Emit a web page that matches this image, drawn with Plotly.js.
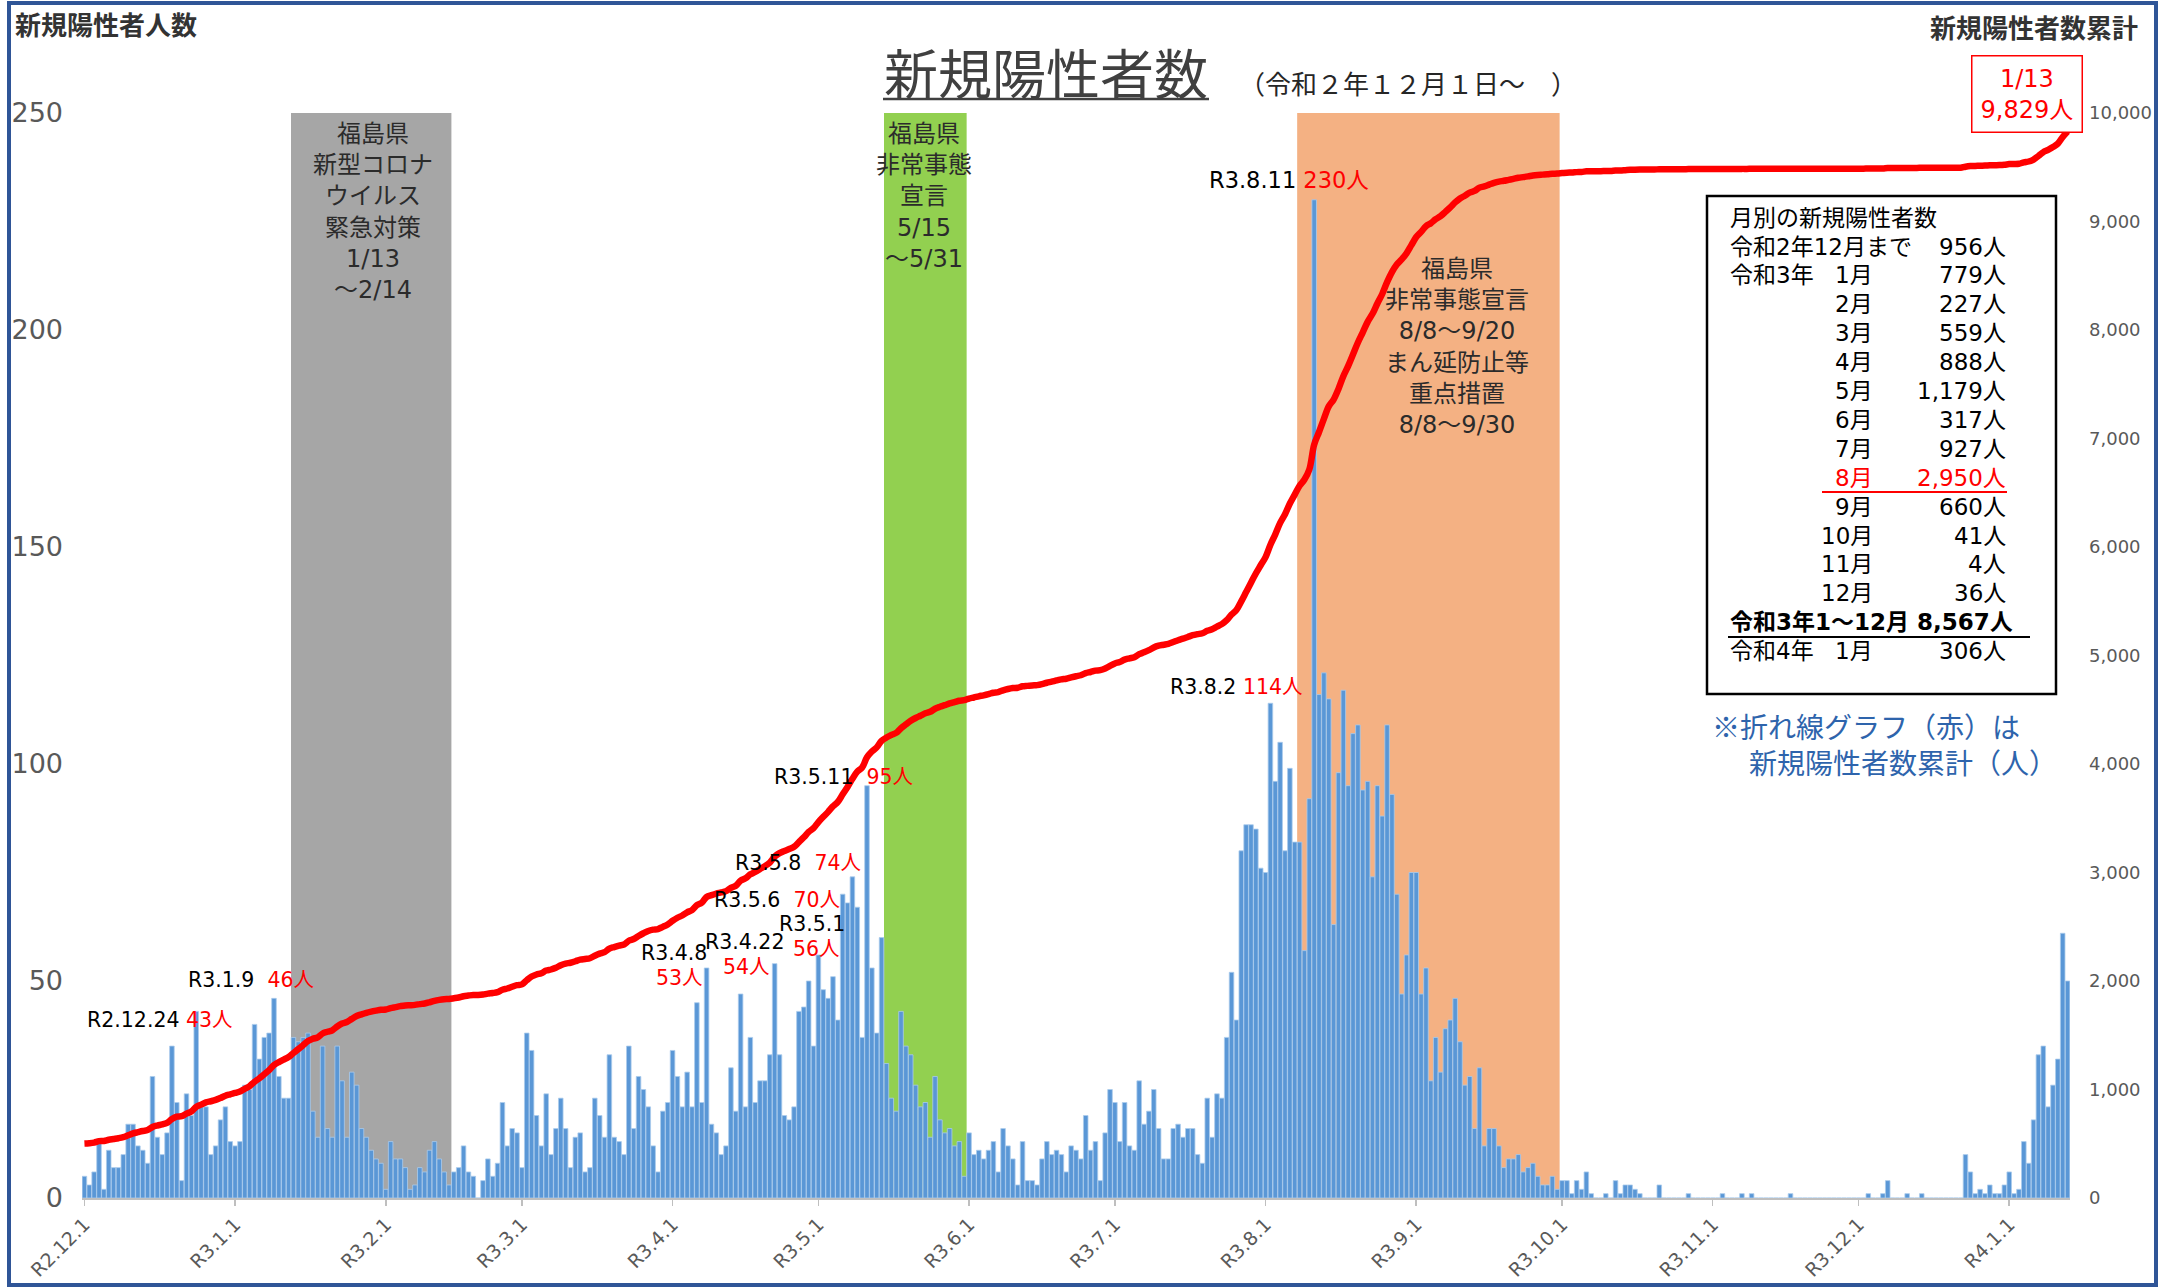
<!DOCTYPE html>
<html><head><meta charset="utf-8">
<script src="https://cdn.plot.ly/plotly-3.0.1.min.js"></script>
<style>html,body{margin:0;padding:0;background:#fff}#chart{width:2159px;height:1287px}</style>
</head><body><div id="chart"></div>
<script>
// ---- daily new positive cases ----
const dec2020 = [5,3,6,13,2,11,7,7,10,17,17,12,11,8,28,14,10,15,35,22,4,24,19,43,21,21,10,12,18,21,13];
const jan2021 = [12,13,26,25,40,32,37,38,46,28,23,23,37,36,37,38,20,14,35,16,14,35,27,14,29,26,16,14,11,9,8];
const feb2021 = [2,13,9,9,7,2,3,7,6,11,13,9,6,3,6,7,12,6,5,0,4,9,5,8,22,12,16,15];
const mar2021 = [7,38,34,19,12,24,10,16,23,16,7,14,15,6,7,23,19,14,33,14,13,10,35,16,28,25,21,12,6,20,22];
const apr2021 = [34,28,21,29,21,45,22,53,17,15,10,12,30,20,47,21,37,22,27,27,33,54,33,19,18,21,43,44,50,35];
const may2021 = [56,48,46,51,41,70,68,74,67,37,95,53,38,60,31,23,20,43,35,33,26,21,22,14,28,18,15,16,12,13,5];
const jun2021 = [15,10,11,9,11,13,6,16,12,9,3,13,4,4,3,9,13,10,11,10,6,12,11,9,19,11,13,4,15,25];
const jul2021 = [22,13,22,12,11,27,17,20,25,16,9,9,16,17,14,16,16,10,8,23,14,24,23,37,52,41,80,86,86,85,76];
const aug2021 = [75,114,96,105,80,99,82,82,57,92,230,116,121,115,63,98,117,95,107,109,94,96,74,95,88,109,93,70,47,56,75];
const sep2021 = [75,47,53,27,37,29,39,41,46,36,26,28,16,30,12,16,16,12,7,9,9,10,6,7,8,5,3,3,5,2];
const oct2021 = [4,4,1,4,2,6,1,0,0,1,0,4,1,3,3,2,1,0,0,0,3,0,0,0,0,0,1,0,0,0,0];
const nov2021 = [0,0,1,0,0,0,1,0,1,0,0,0,0,0,0,0,1,0,0,0,0,0,0,0,0,0,0,0,0,0];
const dec2021 = [0,0,1,0,0,1,4,0,0,0,1,0,0,1,0,0,0,0,0,0,0,0,10,6,1,2,1,3,1,1,3];
const jan2022 = [6,1,2,13,8,18,33,35,21,26,32,61,50];

// ---- axis ticks ----
const tickDates  = ['2020-12-01','2021-01-01','2021-02-01','2021-03-01','2021-04-01','2021-05-01','2021-06-01','2021-07-01','2021-08-01','2021-09-01','2021-10-01','2021-11-01','2021-12-01','2022-01-01'];
const tickLabels = ['R2.12.1','R3.1.1','R3.2.1','R3.3.1','R3.4.1','R3.5.1','R3.6.1','R3.7.1','R3.8.1','R3.9.1','R3.10.1','R3.11.1','R3.12.1','R4.1.1'];

// ---- monthly table ----
const totalThroughDec2020 = 956;
const tableMonthLabels = ['1月','2月','3月','4月','5月','6月','7月','8月','9月','10月','11月','12月'];
const tableMonthValues = [779,227,559,888,1179,317,927,2950,660,41,4,36];
const total2021 = 8567;
const jan2022Total = 306;
const latestDate = '1/13';
const latestCumulative = 9829;

// ---- peak labels ----
const peakLabels = [
  {d:'R2.12.24', v:43}, {d:'R3.1.9', v:46}, {d:'R3.4.8', v:53}, {d:'R3.4.22', v:54},
  {d:'R3.5.1', v:56}, {d:'R3.5.6', v:70}, {d:'R3.5.8', v:74}, {d:'R3.5.11', v:95},
  {d:'R3.8.2', v:114}, {d:'R3.8.11', v:230}
];

// ---- build series ----
const daily = [].concat(dec2020,jan2021,feb2021,mar2021,apr2021,may2021,jun2021,jul2021,aug2021,sep2021,oct2021,nov2021,dec2021,jan2022);
const dates = daily.map((_, i) => new Date(Date.UTC(2020, 11, 1 + i)).toISOString().slice(0,10));
const base = totalThroughDec2020 - dec2020.reduce((a,b)=>a+b,0);
let run = base;
const cumulative = daily.map(v => (run += v));

// ---- geometry helpers (pixels -> paper) ----
const W=2159, H=1287, L=82, R=2070, T=113, B=1198;
const px = x => (x - L) / (R - L);
const py = y => (B - y) / (B - T);
const FJP = '"Noto Sans CJK JP", sans-serif';
const FMIX = '"DejaVu Sans", "Noto Sans CJK JP", sans-serif';
const RED = '#ff0000';
const fmt = n => n.toLocaleString('en-US');

function ann(text, x, y, o={}) {
  return Object.assign({text, x:px(x), y:py(y), xref:'paper', yref:'paper', showarrow:false,
    xanchor:'left', yanchor:'middle', align:'left',
    font:{family:FMIX, size:20.5, color:'#000'}}, o);
}
const red = s => `<span style="color:${RED}">${s}</span>`;

const annotations = [];
// titles
annotations.push(ann('新規陽性者人数', 13, 24, {font:{family:FJP, size:26, color:'#333', weight:'bold'}}));
annotations.push(ann('新規陽性者数累計', 2140, 27, {xanchor:'right', font:{family:FJP, size:26, color:'#333', weight:'bold'}}));
annotations.push(ann('新規陽性者数', 1046, 72, {xanchor:'center', font:{family:FJP, size:54, color:'#404040'}}));
annotations.push(ann('（令和２年１２月１日～\u3000）', 1408, 83, {xanchor:'center', font:{family:FJP, size:26, color:'#262626'}}));

// peak labels
const pl = i => peakLabels[i];
annotations.push(ann(`${pl(0).d} ${red(pl(0).v+'人')}`, 85, 1020));
annotations.push(ann(`${pl(1).d}\u00a0\u00a0${red(pl(1).v+'人')}`, 186, 980));
annotations.push(ann(pl(2).d, 674, 953, {xanchor:'center'}));
annotations.push(ann(red(pl(2).v+'人'), 679, 978, {xanchor:'center'}));
annotations.push(ann(pl(3).d, 744, 942, {xanchor:'center'}));
annotations.push(ann(red(pl(3).v+'人'), 746, 967, {xanchor:'center'}));
annotations.push(ann(pl(4).d, 812, 924, {xanchor:'center'}));
annotations.push(ann(red(pl(4).v+'人'), 816, 949, {xanchor:'center'}));
annotations.push(ann(`${pl(5).d}\u00a0\u00a0${red(pl(5).v+'人')}`, 712, 900));
annotations.push(ann(`${pl(6).d}\u00a0\u00a0${red(pl(6).v+'人')}`, 733, 863));
annotations.push(ann(`${pl(7).d}\u00a0\u00a0${red(pl(7).v+'人')}`, 772, 777));
annotations.push(ann(`${pl(8).d} ${red(pl(8).v+'人')}`, 1168, 687));
annotations.push(ann(`${pl(9).d} ${red(pl(9).v+'人')}`, 1207, 180, {font:{family:FMIX, size:22.5, color:'#000'}}));

// period boxes text
const boxFont = {family:FMIX, size:24, color:'#2b2b2b'};
annotations.push(ann('福島県<br>新型コロナ<br>ウイルス<br>緊急対策<br>1/13<br>～2/14', 373, 118, {xanchor:'center', yanchor:'top', align:'center', font:boxFont}));
annotations.push(ann('福島県<br>非常事態<br>宣言<br>5/15<br>～5/31', 924, 118, {xanchor:'center', yanchor:'top', align:'center', font:boxFont}));
annotations.push(ann('福島県<br>非常事態宣言<br>8/8～9/20<br>まん延防止等<br>重点措置<br>8/8～9/30', 1457, 253, {xanchor:'center', yanchor:'top', align:'center', font:boxFont}));

// latest cumulative box
annotations.push(ann(`${latestDate}<br>${fmt(latestCumulative)}人`, 2027, 94, {xanchor:'center', align:'center',
  font:{family:FMIX, size:24, color:RED}, bordercolor:RED, borderwidth:1.5, borderpad:8, bgcolor:'#fff'}));

// monthly table
const tf = {family:FMIX, size:23, color:'#000'};
const rowY = r => 217.6 + 28.9 * r;
annotations.push(ann('月別の新規陽性者数', 1728, rowY(0), {font:tf}));
annotations.push(ann('令和2年12月まで', 1728, rowY(1), {font:tf}));
annotations.push(ann(fmt(totalThroughDec2020)+'人', 2008, rowY(1), {xanchor:'right', font:tf}));
annotations.push(ann('令和3年', 1728, rowY(2), {font:tf}));
tableMonthLabels.forEach((m, i) => {
  const isPeak = tableMonthValues[i] === Math.max(...tableMonthValues);
  const f = Object.assign({}, tf, isPeak ? {color:RED} : {});
  annotations.push(ann(m, 1875, rowY(2+i), {xanchor:'right', font:f}));
  annotations.push(ann(fmt(tableMonthValues[i])+'人', 2008, rowY(2+i), {xanchor:'right', font:f}));
});
annotations.push(ann(`<b>令和3年1～12月 ${fmt(total2021)}人</b>`, 1728, rowY(14), {font:tf}));
annotations.push(ann('令和4年', 1728, rowY(15), {font:tf}));
annotations.push(ann('1月', 1875, rowY(15), {xanchor:'right', font:tf}));
annotations.push(ann(fmt(jan2022Total)+'人', 2008, rowY(15), {xanchor:'right', font:tf}));

// note
const noteFont = {family:FJP, size:28, color:'#2e64ac'};
annotations.push(ann('※折れ線グラフ（赤）は', 1710, 726, {font:noteFont}));
annotations.push(ann('新規陽性者数累計（人）', 1747, 762, {font:noteFont}));

// ---- shapes ----
const dayShift = (s, h) => { const d = new Date(s + 'T00:00:00Z'); d.setUTCHours(d.getUTCHours() + h); return d.toISOString().slice(0,19).replace('T',' '); };
const period = (a, b, color) => ({type:'rect', xref:'x', yref:'y', x0:dayShift(a,-12), x1:dayShift(b,12), y0:0, y1:250,
  fillcolor:color, line:{width:0}, layer:'below'});
const pline = (x0, y0, x1, y1, color, w) => ({type:'line', xref:'paper', yref:'paper', x0:px(x0), y0:py(y0), x1:px(x1), y1:py(y1), line:{color, width:w}});
const shapes = [
  period('2021-01-13','2021-02-14','#a6a6a6'),
  period('2021-05-15','2021-05-31','#92d050'),
  period('2021-08-08','2021-09-30','#f4b183'),
  {type:'rect', xref:'paper', yref:'paper', x0:px(1707), x1:px(2056), y0:py(694), y1:py(196), fillcolor:'#fff', line:{color:'#000', width:2.5}, layer:'above'},
  pline(1822, 492, 2007, 492, RED, 2),
  pline(1728, 637, 2030, 637, '#000', 2),
  pline(883, 99, 1209, 99, '#404040', 2.5),
  {type:'rect', xref:'paper', yref:'paper', x0:px(9), x1:px(2156), y0:py(1285), y1:py(3), line:{color:'#2f5597', width:4}, fillcolor:'rgba(0,0,0,0)', layer:'above'}
];

// ---- traces ----
const traces = [
  {type:'bar', x:dates, y:daily, yaxis:'y', name:'新規陽性者数',
   marker:{color:'#5a97d6', line:{color:'#abcbec', width:0.8}}, hoverinfo:'x+y'},
  {type:'scatter', mode:'lines', x:dates, y:cumulative, yaxis:'y2', name:'累計',
   line:{color:RED, width:6.5, shape:'spline', smoothing:1}}
];

const layout = {
  width:W, height:H, margin:{l:L, r:W-R, t:T, b:H-B, pad:0},
  paper_bgcolor:'#fff', plot_bgcolor:'rgba(0,0,0,0)', showlegend:false, bargap:0.06,
  xaxis:{type:'date', range:['2020-11-30 12:00','2022-01-13 12:00'], tickvals:tickDates, ticktext:tickLabels,
    tickangle:-45, ticks:'outside', ticklen:6, tickcolor:'#bfbfbf', tickwidth:1.5,
    showline:true, linecolor:'#bfbfbf', linewidth:2, showgrid:false, zeroline:false,
    tickfont:{family:FMIX, size:19, color:'#595959'}},
  yaxis:{range:[0,250], dtick:50, tick0:0, showgrid:false, zeroline:false, showline:false, ticks:'',
    ticklabelstandoff:18, tickfont:{family:FMIX, size:27, color:'#595959'}},
  yaxis2:{range:[0,10000], dtick:1000, tick0:0, tickformat:',d', overlaying:'y', side:'right',
    showgrid:false, zeroline:false, showline:false, ticks:'', ticklabelstandoff:18,
    tickfont:{family:FMIX, size:18, color:'#595959'}},
  shapes, annotations
};

Plotly.newPlot('chart', traces, layout, {staticPlot:true, displayModeBar:false});
</script>
</body></html>
